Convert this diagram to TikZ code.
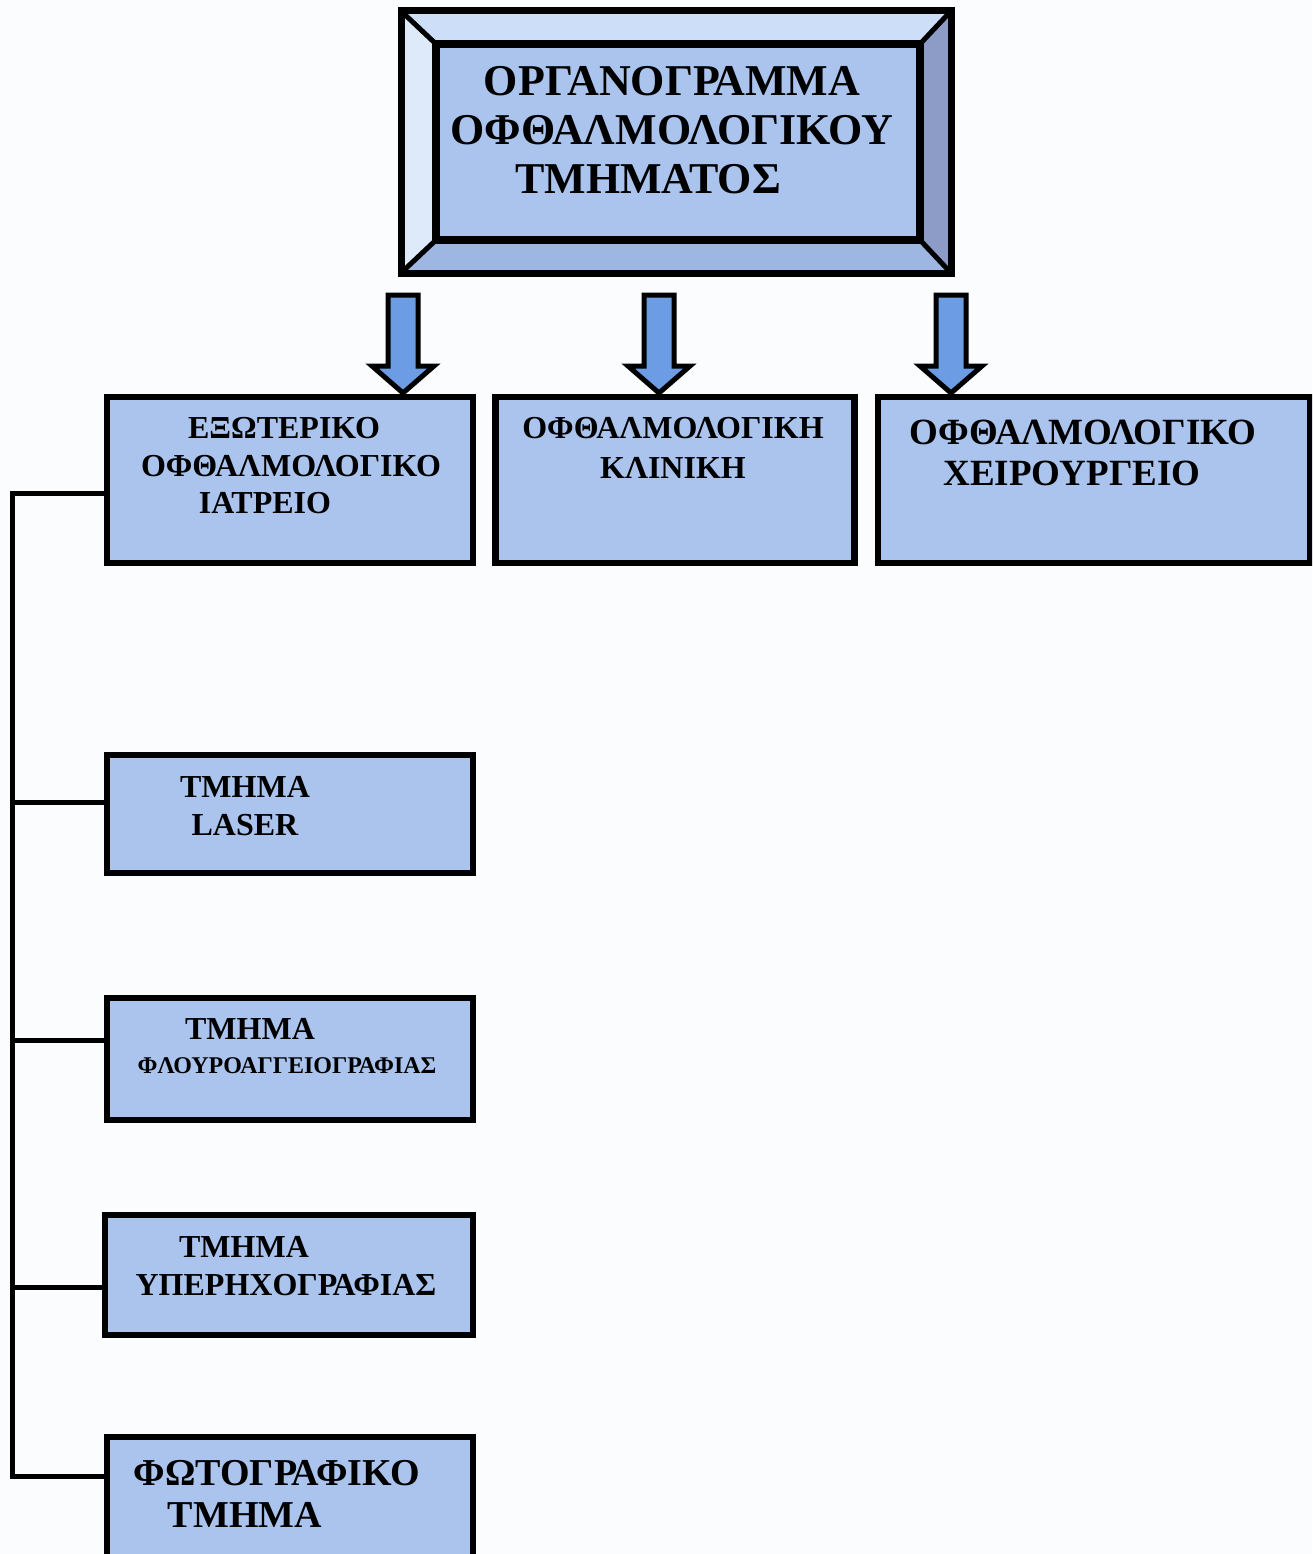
\documentclass[tikz,border=0pt]{standalone}
\usepackage{fontspec}
\setmainfont{Liberation Serif}
\usepackage{xcolor}

\definecolor{boxblue}{RGB}{170,196,238}
\definecolor{arrowblue}{RGB}{108,156,228}
\definecolor{bevtop}{RGB}{204,222,248}
\definecolor{bevleft}{RGB}{222,233,250}
\definecolor{bevright}{RGB}{140,156,198}
\definecolor{bevbot}{RGB}{158,182,226}
\definecolor{paper}{RGB}{250,252,254}

\begin{document}
\begin{tikzpicture}[x=1pt, y=-1pt,
  box/.style={draw=black, line width=6.5pt, fill=boxblue, inner sep=0pt},
  lbl/.style={align=center, inner sep=0pt},
  conn/.style={draw=black, line width=5pt},
  bigarrow/.style={draw=black, line width=5pt, fill=arrowblue, line join=miter}]

\clip (0,0) rectangle (1312,1554);
\fill[paper] (0,0) rectangle (1312,1554);


\coordinate (otl) at (401,11);
\coordinate (otr) at (951,11);
\coordinate (obr) at (951,273);
\coordinate (obl) at (401,273);
\coordinate (itl) at (436,44);
\coordinate (itr) at (920,44);
\coordinate (ibr) at (920,240);
\coordinate (ibl) at (436,240);

\fill[bevtop] (otl) -- (otr) -- (itr) -- (itl) -- cycle;
\fill[bevright] (otr) -- (obr) -- (ibr) -- (itr) -- cycle;
\fill[bevbot] (obr) -- (obl) -- (ibl) -- (ibr) -- cycle;
\fill[bevleft] (obl) -- (otl) -- (itl) -- (ibl) -- cycle;

\node[box, line width=7.5pt, minimum width=484pt, minimum height=196pt] (title) at (678,142) {};
\draw[line width=7pt] (otl) rectangle (obr);
\draw[line width=5pt] (otl) -- (itl);
\draw[line width=5pt] (otr) -- (itr);
\draw[line width=5pt] (obr) -- (ibr);
\draw[line width=5pt] (obl) -- (ibl);

\node[lbl, font=\bfseries\fontsize{44}{49}\selectfont] (titletext) at (672,130)
  {ΟΡΓΑΝΟΓΡΑΜΜΑ\\ΟΦΘΑΛΜΟΛΟΓΙΚΟΥ\\\hspace*{-48pt}ΤΜΗΜΑΤΟΣ};


\node[box, minimum width=366pt, minimum height=166pt] (exo) at (290,480) {};
\node[box, minimum width=359pt, minimum height=166pt] (clinic) at (675,480) {};
\node[box, minimum width=432pt, minimum height=166pt] (surgery) at (1094,480) {};

\node[lbl, font=\bfseries\fontsize{32}{37.5}\selectfont] (exotext) at (291,466)
  {\hspace*{-14pt}ΕΞΩΤΕΡΙΚΟ\\ΟΦΘΑΛΜΟΛΟΓΙΚΟ\\\hspace*{-52pt}ΙΑΤΡΕΙΟ};
\node[lbl, font=\bfseries\fontsize{32}{40}\selectfont] (clinictext) at (673,448)
  {ΟΦΘΑΛΜΟΛΟΓΙΚΗ\\ΚΛΙΝΙΚΗ};
\node[lbl, font=\bfseries\fontsize{37}{41}\selectfont] (surgerytext) at (1083,453)
  {ΟΦΘΑΛΜΟΛΟΓΙΚΟ\\\hspace*{-22pt}ΧΕΙΡΟΥΡΓΕΙΟ};


\coordinate (tipa) at (403,393);
\coordinate (tipb) at (659,393);
\coordinate (tipc) at (951,393);
\draw[bigarrow] (tipa) -- ++(-31,-27) -- ++(16,0) -- ++(0,-71) -- ++(30,0) -- ++(0,71) -- ++(16,0) -- cycle;
\draw[bigarrow] (tipb) -- ++(-31,-27) -- ++(16,0) -- ++(0,-71) -- ++(30,0) -- ++(0,71) -- ++(16,0) -- cycle;
\draw[bigarrow] (tipc) -- ++(-31,-27) -- ++(16,0) -- ++(0,-71) -- ++(30,0) -- ++(0,71) -- ++(16,0) -- cycle;


\node[box, minimum width=366pt, minimum height=118pt] (laser) at (290,814) {};
\node[box, minimum width=366pt, minimum height=122pt] (fluoro) at (290,1059) {};
\node[box, minimum width=368pt, minimum height=120pt] (ultra) at (289,1275) {};
\node[box, minimum width=366pt, minimum height=140pt] (photo) at (290,1507) {};

\node[lbl, font=\bfseries\fontsize{32}{38}\selectfont] (lasertext) at (245,806)
  {ΤΜΗΜΑ\\LASER};
\node[lbl, font=\bfseries\fontsize{32}{34}\selectfont] (fluorotext) at (287,1046)
  {\hspace*{-74pt}ΤΜΗΜΑ\\{\fontsize{24}{34}\selectfont ΦΛΟΥΡΟΑΓΓΕΙΟΓΡΑΦΙΑΣ}};
\node[lbl, font=\bfseries\fontsize{32}{38}\selectfont] (ultratext) at (286,1266)
  {\hspace*{-84pt}ΤΜΗΜΑ\\ΥΠΕΡΗΧΟΓΡΑΦΙΑΣ};
\node[lbl, font=\bfseries\fontsize{38}{42}\selectfont] (phototext) at (277,1494)
  {ΦΩΤΟΓΡΑΦΙΚΟ\\\hspace*{-64pt}ΤΜΗΜΑ};


\coordinate (trunk) at (12,0);
\coordinate (linkexo) at ([yshift=-13pt]exo.west);
\coordinate (linklaser) at ([yshift=12pt]laser.west);
\coordinate (linkfluoro) at ([yshift=19pt]fluoro.west);
\coordinate (linkultra) at ([yshift=-12pt]ultra.west);
\coordinate (linkphoto) at ([yshift=31pt]photo.west);

\draw[conn, line join=miter] (linkexo) -| (trunk |- linkphoto) -- (linkphoto);
\draw[conn] (linklaser) -- (trunk |- linklaser);
\draw[conn] (linkfluoro) -- (trunk |- linkfluoro);
\draw[conn] (linkultra) -- (trunk |- linkultra);

\end{tikzpicture}
\end{document}
